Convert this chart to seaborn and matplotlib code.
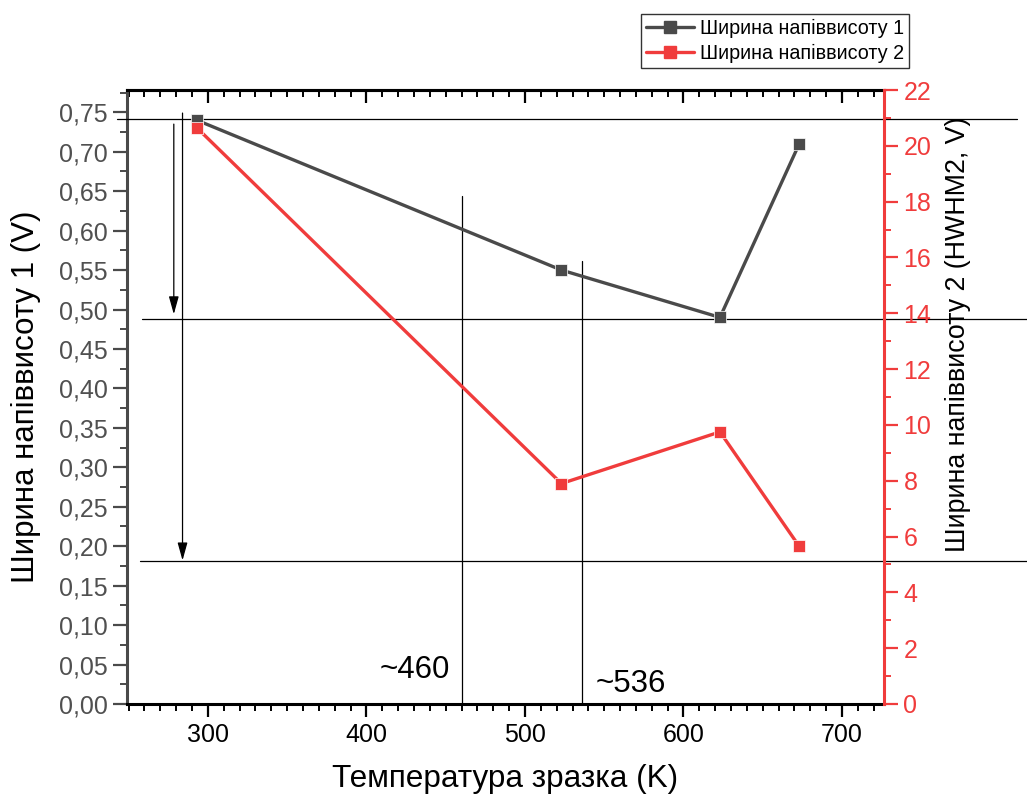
import matplotlib
matplotlib.use("Agg")
import matplotlib.pyplot as plt
from matplotlib.lines import Line2D
from matplotlib.ticker import MultipleLocator, FuncFormatter
import seaborn as sns
import pandas as pd

# Sample temperatures (K) and measured half-widths
temperature = [293, 523, 623, 673]
width_1 = [0.74, 0.55, 0.49, 0.71]        # V
width_2 = [20.65, 7.9, 9.75, 5.65]        # HWHM2, V

# Reference levels and marked temperatures
h_levels = [0.742, 0.488, 0.181]
v_marks = [460, 536]
v_tops = [0.644, 0.562]
mark_labels = ["~460", "~536"]

label_1 = "Ширина напіввисоту 1"
label_2 = "Ширина напіввисоту 2"

sns.set_theme(style="white")
plt.rcParams["font.family"] = ["Liberation Sans", "DejaVu Sans"]
plt.rcParams["text.color"] = "black"
plt.rcParams["axes.labelcolor"] = "black"

GRAY = "#4a4a4a"
RED = "#f03c3c"

df = pd.DataFrame({"T": temperature, "w1": width_1, "w2": width_2})

fig = plt.figure(figsize=(10.27, 8.01), dpi=100)
ax = fig.add_axes([0.1237, 0.1211, 0.7371, 0.7665])
ax2 = ax.twinx()

sns.lineplot(data=df, x="T", y="w1", ax=ax, color=GRAY, marker="s",
             markersize=9, linewidth=2.4, markeredgecolor="white",
             markeredgewidth=0.5, zorder=5)
sns.lineplot(data=df, x="T", y="w2", ax=ax2, color=RED, marker="s",
             markersize=9, linewidth=2.4, markeredgecolor="white",
             markeredgewidth=0.5, zorder=5)

ax.set_xlim(249, 726.5)
ax.set_ylim(0, 0.7782)
ax2.set_ylim(0, 22)

# Axis styling
ax.xaxis.set_major_locator(MultipleLocator(100))
ax.xaxis.set_minor_locator(MultipleLocator(10))
ax.yaxis.set_major_locator(MultipleLocator(0.05))
ax.yaxis.set_minor_locator(MultipleLocator(0.025))
ax.yaxis.set_major_formatter(FuncFormatter(lambda v, p: f"{v:.2f}".replace(".", ",")))
ax2.yaxis.set_major_locator(MultipleLocator(2))
ax2.yaxis.set_minor_locator(MultipleLocator(1))

ax.tick_params(axis="x", which="major", direction="out", length=9, width=1.6,
               color="black", labelsize=18, labelcolor="black", pad=5, bottom=True)
ax.tick_params(axis="x", which="minor", direction="out", length=5, width=1.4,
               color="black", bottom=True)
ax.tick_params(axis="y", which="major", direction="out", length=10, width=1.6,
               color=GRAY, labelsize=18, labelcolor="#505050", left=True, pad=4)
ax.tick_params(axis="y", which="minor", direction="out", length=5, width=1.4,
               color=GRAY, left=True)
ax2.tick_params(axis="y", which="major", direction="out", length=10, width=1.6,
                color=RED, labelcolor=RED, labelsize=18, right=True, pad=4)
ax2.tick_params(axis="y", which="minor", direction="out", length=5, width=1.4,
                color=RED, right=True)

top = ax.secondary_xaxis("top")
top.xaxis.set_major_locator(MultipleLocator(100))
top.xaxis.set_minor_locator(MultipleLocator(10))
top.tick_params(which="major", direction="in", length=9, width=1.6,
                color="black", labeltop=False)
top.tick_params(which="minor", direction="in", length=5, width=1.4,
                color="black")
top.spines["top"].set_color("black")
top.spines["top"].set_linewidth(2.2)

for name, sp in ax.spines.items():
    sp.set_linewidth(2.2)
ax.spines["bottom"].set_color("black")
ax.spines["top"].set_color("black")
ax.spines["left"].set_color(GRAY)
ax.spines["right"].set_visible(False)
for name, sp in ax2.spines.items():
    sp.set_visible(False)
ax2.spines["right"].set_visible(True)
ax2.spines["right"].set_color(RED)
ax2.spines["right"].set_linewidth(2.2)

ax.set_xlabel("Температура зразка (K)", fontsize=22.7, labelpad=12, color="black")
ax.set_ylabel(label_1 + " (V)", fontsize=22.5, labelpad=13, color="black")
ax2.set_ylabel(label_2 + " (HWHM2, V)", fontsize=19.3, color="black")
ax2.yaxis.set_label_coords(1.0806, 0.6026)

# Horizontal reference levels reaching beyond the frame
spans = [(-0.013, 1.176), (0.02, 1.2), (0.017, 1.2)]
for lvl, (x0, x1) in zip(h_levels, spans):
    ax.axhline(lvl, xmin=x0, xmax=x1, color="black", linewidth=0.9,
               clip_on=False, zorder=3)

# Vertical markers with labels
for xv, yt in zip(v_marks, v_tops):
    ax.plot([xv, xv], [0, yt], color="black", linewidth=0.9, zorder=3)
ax.text(v_marks[0] - 7.5, 0.033, mark_labels[0], fontsize=22.5,
        ha="right", va="baseline", color="black")
ax.text(v_marks[1] + 8.5, 0.0152, mark_labels[1], fontsize=22.5,
        ha="left", va="baseline", color="black")

# Downward arrows
arrows = [(278.5, 0.735, 0.494), (284, 0.749, 0.182)]
for xa, y0, y1 in arrows:
    ax.annotate("", xy=(xa, y1), xytext=(xa, y0),
                arrowprops=dict(arrowstyle="-|>,head_length=0.9,head_width=0.25",
                                color="black", lw=0.9, shrinkA=0, shrinkB=0),
                zorder=4)

handles = [
    Line2D([], [], color=GRAY, marker="s", markersize=8, linewidth=2.4),
    Line2D([], [], color=RED, marker="s", markersize=8, linewidth=2.4),
]
leg = fig.legend(handles, [label_1, label_2], loc="upper left",
                 bbox_to_anchor=(641 / 1027, 1 - 14 / 801), fontsize=14.2,
                 frameon=True, fancybox=False, edgecolor="black",
                 borderpad=0.25, handlelength=2.45, handletextpad=0.3,
                 labelspacing=0.3, borderaxespad=0)
leg.get_frame().set_linewidth(1.0)
for t in leg.get_texts():
    t.set_color("black")

fig.savefig("out.png", dpi=100)
